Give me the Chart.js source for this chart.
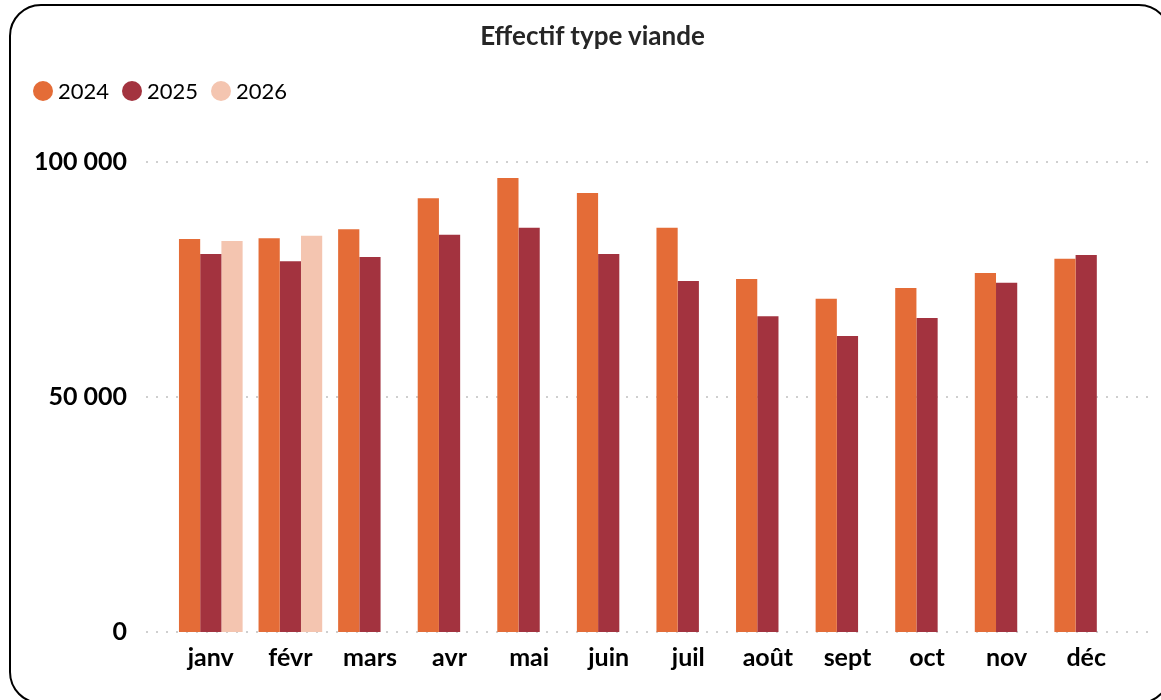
<!DOCTYPE html>
<html>
<head>
<meta charset="utf-8">
<script src="https://cdn.jsdelivr.net/npm/chart.js@4.4.1/dist/chart.umd.min.js"></script>
<style>
  html, body { margin: 0; padding: 0; background: #fff; overflow: hidden; }
  #wrap { position: relative; width: 1161px; height: 700px; overflow: hidden; }
  #frame { position: absolute; left: 9px; top: 4px; width: 1162px; height: 700px;
           border: 2px solid #000; border-radius: 32px; box-sizing: border-box; }
  #box { position: absolute; left: 10px; top: 0; width: 1165px; height: 700px; }
  #title { position: absolute; left: 10px; width: 1165px; top: 19px; text-align: center;
           font-family: Lato, "Open Sans", sans-serif; font-size: 26px; font-weight: bold; color: #262626;
           line-height: 32px; }
  #legend { position: absolute; left: 33px; top: 77px; display: flex; gap: 13px;
            font-family: Lato, "Open Sans", sans-serif; font-size: 22px; color: #000; }
  .item { display: flex; align-items: center; }
  .dot { width: 20px; height: 20px; border-radius: 50%; margin-right: 5px; }
</style>
</head>
<body>
<div id="wrap">
  <div id="frame"></div>
  <div id="box"><canvas id="c" width="1165" height="700"></canvas></div>
  <div id="title"></div>
  <div id="legend"></div>
</div>
<script>
const chartTitle = 'Effectif type viande';
const categories = ['janv', 'févr', 'mars', 'avr', 'mai', 'juin', 'juil', 'août', 'sept', 'oct', 'nov', 'déc'];
const seriesNames = ['2024', '2025', '2026'];
const values2024 = [83600, 83800, 85700, 92300, 96600, 93400, 86000, 75100, 70900, 73200, 76400, 79400];
const values2025 = [80400, 78900, 79800, 84500, 86000, 80400, 74700, 67200, 63000, 66800, 74300, 80200];
const values2026 = [83200, 84300, null, null, null, null, null, null, null, null, null, null];
const colors = ['#E46C37', '#A3333F', '#F4C5B0'];
const yTicks = [0, 50000, 100000];

const FONT = 'Lato, "Open Sans", sans-serif';

const dottedGrid = {
  id: 'dottedGrid',
  beforeDatasetsDraw(chart) {
    const y = chart.scales.y;
    const ctx = chart.ctx;
    ctx.save();
    ctx.strokeStyle = '#cfcfcf';
    ctx.lineWidth = 2;
    ctx.setLineDash([2, 8]);
    y.ticks.forEach(t => {
      const py = Math.round(y.getPixelForValue(t.value));
      ctx.beginPath();
      ctx.moveTo(136, py);
      ctx.lineTo(1139, py);
      ctx.stroke();
    });
    ctx.restore();
  }
};

const allValues = [values2024, values2025, values2026];
const chart = new Chart(document.getElementById('c'), {
  type: 'bar',
  data: {
    labels: categories,
    datasets: seriesNames.map((n, i) => ({
      label: n,
      data: allValues[i],
      backgroundColor: colors[i],
      borderWidth: 0,
      categoryPercentage: 0.8,
      barPercentage: 1.0
    }))
  },
  options: {
    responsive: false,
    animation: false,
    layout: { padding: { left: 0, right: 49, top: 162, bottom: 0 } },
    plugins: {
      legend: { display: false },
      tooltip: { enabled: false },
      title: { display: false }
    },
    scales: {
      x: {
        grid: { display: false, drawTicks: false },
        border: { display: false },
        ticks: { color: '#000', font: { family: FONT, size: 25, weight: 'bold' }, padding: 11 },
        afterFit(s) { s.height = 68; }
      },
      y: {
        min: 0, max: 100000,
        grid: { display: false, drawTicks: false },
        border: { display: false },
        afterBuildTicks(s) { s.ticks = yTicks.map(v => ({ value: v })); },
        ticks: {
          color: '#000',
          font: { family: FONT, size: 25, weight: 'bold' },
          padding: 44,
          callback: v => v === 0 ? '0' : String(v).replace(/\B(?=(\d{3})+(?!\d))/g, ' ')
        },
        afterFit(s) { s.width = 161; }
      }
    }
  },
  plugins: [dottedGrid]
});

document.getElementById('title').textContent = chartTitle;
const leg = document.getElementById('legend');
seriesNames.forEach((n, i) => {
  const it = document.createElement('div');
  it.className = 'item';
  it.innerHTML = '<span class="dot" style="background:' + colors[i] + '"></span><span>' + n + '</span>';
  leg.appendChild(it);
});
</script>
</body>
</html>
